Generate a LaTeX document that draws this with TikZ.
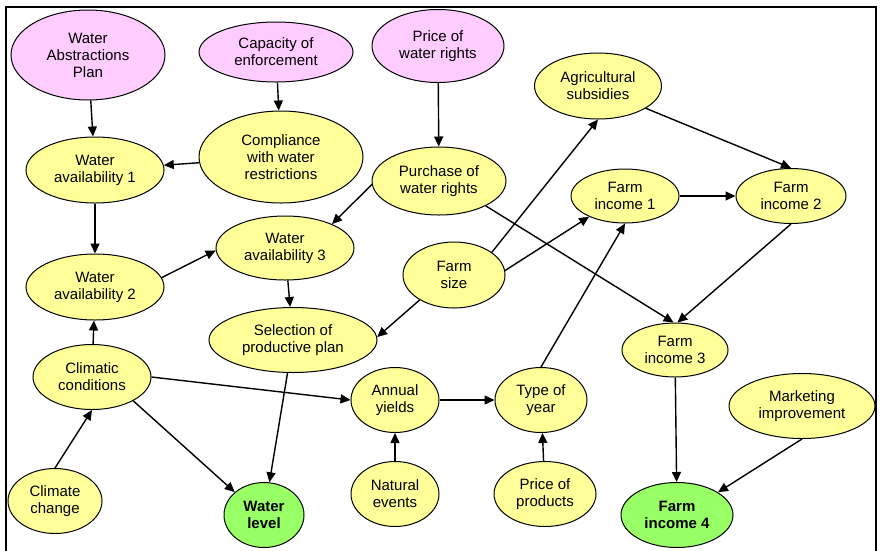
\documentclass[tikz,border=0pt]{standalone}
\usepackage{fontspec}
\setmainfont{Liberation Sans}
\usetikzlibrary{shapes.geometric,arrows.meta}
\definecolor{pinkfill}{RGB}{255,204,255}
\definecolor{yellowfill}{RGB}{255,255,153}
\definecolor{greenfill}{RGB}{153,255,102}
\tikzset{
  ell/.style={ellipse,draw=black,line width=1pt,inner sep=0pt,align=center,
    font=\fontsize{15}{17}\selectfont},
  pinknode/.style={ell,fill=pinkfill},
  yelnode/.style={ell,fill=yellowfill},
  greennode/.style={ell,fill=greenfill,font=\fontsize{15}{17}\selectfont\bfseries},
  sz/.style 2 args={minimum width=#1pt,minimum height=#2pt},
  link/.style={line width=1.4pt,-{Triangle[length=10pt,width=9pt]}}
}
\begin{document}
\begin{tikzpicture}[x=1pt,y=-1pt]
\useasboundingbox (0,0) rectangle (881,550);
\draw[line width=2pt] (6,560) -- (6,7) -- (876,7) -- (876,560);

\node[pinknode,sz={154}{90}] (wap) at (88,55) {Water\\Abstractions\\Plan};
\node[pinknode,sz={154}{60}] (cap) at (276,52) {Capacity of\\enforcement};
\node[pinknode,sz={132}{73}] (pwr) at (438,46) {Price of\\water rights};
\node[yelnode,sz={164}{92}] (comp) at (281,157) {Compliance\\with water\\restrictions};
\node[yelnode,sz={138}{66}] (wa1) at (95,170) {Water\\availability 1};
\node[yelnode,sz={134}{68}] (pur) at (439,181) {Purchase of\\water rights};
\node[yelnode,sz={138}{64}] (wa3) at (285,248) {Water\\availability 3};
\node[yelnode,sz={138}{66}] (wa2) at (95,287) {Water\\availability 2};
\node[yelnode,sz={127}{66}] (agr) at (598,86) {Agricultural\\subsidies};
\node[yelnode,sz={108}{54}] (fi1) at (625,196) {Farm\\income 1};
\node[yelnode,sz={110}{55}] (fi2) at (791,196) {Farm\\income 2};
\node[yelnode,sz={102}{66}] (fs) at (454,275) {Farm\\size};
\node[yelnode,sz={168}{65}] (sel) at (293,340) {Selection of\\productive plan};
\node[yelnode,sz={118}{65}] (cli) at (92,377) {Climatic\\conditions};
\node[yelnode,sz={88}{65}] (ay) at (395,400) {Annual\\yields};
\node[yelnode,sz={92}{65}] (ty) at (541,400) {Type of\\year};
\node[yelnode,sz={106}{54}] (fi3) at (675,350) {Farm\\income 3};
\node[yelnode,sz={146}{65}] (mkt) at (802,406) {Marketing\\improvement};
\node[yelnode,sz={94}{65}] (cc) at (55,501) {Climate\\change};
\node[greennode,sz={80}{65}] (wl) at (264,515) {Water\\level};
\node[yelnode,sz={88}{65}] (ne) at (395,494) {Natural\\events};
\node[yelnode,sz={102}{65}] (pp) at (545,494) {Price of\\products};
\node[greennode,sz={112}{65}] (fi4) at (677,515) {Farm\\income 4};

\draw[link] (wap) -- (wa1);
\draw[link] (cap) -- (comp);
\draw[link] (comp) -- (wa1);
\draw[link] (pwr) -- (pur);
\draw[link] (pur.183) -- (wa3.27);
\draw[link] (wa1) -- (wa2);
\draw[link] (wa2.8) -- (wa3.182);
\draw[link] (wa3) -- (sel);
\draw[link] (fs.216) -- (sel.2);
\draw[link] (fs.31) -- (agr.270);
\draw[link] (fs.5) -- (fi1.210);
\draw[link] (fi1) -- (fi2);
\draw[link] (agr.335) -- (fi2.90);
\draw[link] (pur.332) -- (fi3.93);
\draw[link] (fi2.270) -- (fi3.85);
\draw[link] (ty.90) -- (fi1.270);
\draw[link] (cli) -- (wa2);
\draw[link] (cc.90) -- (cli.270);
\draw[link] (cli.330) -- (wl.142);
\draw[link] (cli.0) -- (ay.180);
\draw[link] (sel) -- (wl);
\draw[link] (ne) -- (ay);
\draw[link] (ay) -- (ty);
\draw[link] (pp) -- (ty);
\draw[link] (fi3) -- (fi4);
\draw[link] (mkt.270) -- (fi4.29);
\end{tikzpicture}
\end{document}
